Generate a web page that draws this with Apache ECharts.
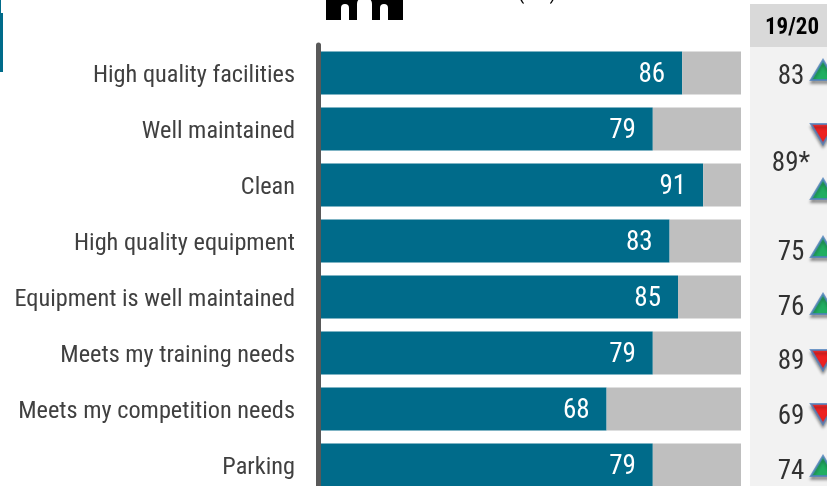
<!DOCTYPE html>
<html>
<head>
<meta charset="utf-8">
<script src="https://cdn.jsdelivr.net/npm/echarts@6/dist/echarts.min.js"></script>
<style>
html, body { margin: 0; padding: 0; background: #fff; }
#chart { width: 827px; height: 486px; }
</style>
</head>
<body>
<div id="chart"></div>
<script>
const categories = ["High quality facilities", "Well maintained", "Clean", "High quality equipment",
  "Equipment is well maintained", "Meets my training needs", "Meets my competition needs", "Parking"];
const scores = [86, 79, 91, 83, 85, 79, 68, 79];
const remainder = [14, 21, 9, 17, 15, 21, 32, 21];
// 19/20 column: 89* covers both "Well maintained" and "Clean"
const lastYear = ["83", "89*", null, "75", "76", "89", "69", "74"];
const trend = ["up", "down", "up", "up", "up", "down", "down", "up"];
// nudges (px) because the source column does not sit on the bar centres
const lastYearNudge = [4, 35, 0, 12, 11, 9, 8, 7];
const trendNudge = [-3, 5, 4, 6, 7, 7, 5, 1];

const TEAL = "#006b8a";
const FONT = "'Roboto Condensed', 'Liberation Sans', sans-serif";

const myChart = echarts.init(document.getElementById("chart"), null, { renderer: "canvas" });

function triangleData(dir, color) {
  const out = [];
  trend.forEach(function (t, i) {
    if (t !== dir) return;
    out.push({
      value: ["trend", categories[i]],
      symbolOffset: [0, trendNudge[i]],
      itemStyle: { color: color }
    });
  });
  return out;
}

const triangleStyle = {
  borderColor: "#4f81bd",
  borderWidth: 2,
  shadowColor: "rgba(0,0,0,0.4)",
  shadowBlur: 3,
  shadowOffsetY: 3
};

const option = {
  animation: false,
  grid: [
    { left: 321, width: 420, top: 45, height: 448, outerBoundsMode: "none" },
    { left: 775, width: 64, top: 45, height: 448, outerBoundsMode: "none" }
  ],
  xAxis: [
    { gridIndex: 0, type: "value", min: 0, max: 100, show: false },
    { gridIndex: 1, type: "category", data: ["value", "trend"], show: false }
  ],
  yAxis: [
    {
      gridIndex: 0,
      type: "category",
      inverse: true,
      data: categories,
      axisTick: { show: false },
      axisLine: { show: true, lineStyle: { color: "#595959", width: 5 }, onZero: false },
      offset: 3,
      axisLabel: {
        margin: 23,
        formatter: "{a|{value}}",
        rich: {
          a: { color: "#404040", fontSize: 24.3, fontFamily: FONT, padding: [6, 0, 0, 0] }
        }
      }
    },
    { gridIndex: 1, type: "category", inverse: true, data: categories, show: false }
  ],
  series: [
    {
      type: "bar",
      stack: "total",
      barWidth: 43,
      itemStyle: { color: TEAL },
      label: {
        show: true,
        position: "insideRight",
        distance: 17,
        offset: [0, 2],
        color: "#fff",
        fontSize: 27,
        fontFamily: FONT
      },
      data: scores
    },
    {
      type: "bar",
      stack: "total",
      barWidth: 43,
      itemStyle: { color: "#bfbfbf" },
      data: remainder
    },
    {
      type: "scatter",
      xAxisIndex: 1,
      yAxisIndex: 1,
      symbolSize: 0,
      z: 5,
      data: lastYear.map(function (v, i) {
        if (v === null) return null;
        return {
          value: ["value", categories[i]],
          label: {
            show: true,
            position: "inside",
            offset: [0, lastYearNudge[i]],
            formatter: v,
            color: "#000",
            fontSize: 27,
            fontFamily: FONT
          }
        };
      }).filter(Boolean)
    },
    {
      type: "scatter",
      xAxisIndex: 1,
      yAxisIndex: 1,
      symbol: "triangle",
      symbolSize: [24, 20],
      z: 5,
      itemStyle: triangleStyle,
      data: triangleData("up", "#00b050")
    },
    {
      type: "scatter",
      xAxisIndex: 1,
      yAxisIndex: 1,
      symbol: "triangle",
      symbolRotate: 180,
      symbolSize: [24, 20],
      z: 5,
      itemStyle: triangleStyle,
      data: triangleData("down", "#ff0000")
    }
  ],
  graphic: [
    { type: "rect", z: -10, shape: { x: 750, y: 4, width: 77, height: 43 }, style: { fill: "#d9d9d9" } },
    { type: "rect", z: -10, shape: { x: 750, y: 47, width: 77, height: 439 }, style: { fill: "#f2f2f2" } },
    {
      type: "text", z: 10, x: 792, y: 28,
      style: { text: "19/20", fill: "#000", font: "bold 23px " + FONT, textAlign: "center", textVerticalAlign: "middle" }
    },
    // side rule, top-left
    { type: "rect", shape: { x: 0, y: 0, width: 1, height: 13 }, style: { fill: TEAL } },
    { type: "rect", shape: { x: 0, y: 13, width: 3, height: 59 }, style: { fill: TEAL } },
    // cropped icon at the top edge
    { type: "rect", shape: { x: 326, y: 0, width: 77, height: 20 }, style: { fill: "#000" } },
    { type: "rect", shape: { x: 341, y: 4, width: 8, height: 16, r: [4, 4, 0, 0] }, style: { fill: "#fff" } },
    { type: "rect", shape: { x: 357, y: -3, width: 15, height: 23, r: [7, 7, 0, 0] }, style: { fill: "#fff" } },
    { type: "rect", shape: { x: 380, y: 4, width: 8, height: 16, r: [4, 4, 0, 0] }, style: { fill: "#fff" } },
    // cropped brackets of the heading
    {
      type: "text", x: 537, y: -7,
      style: { text: "(     )", fill: "#000", font: "22px " + FONT, textAlign: "center", textVerticalAlign: "middle" }
    }
  ]
};

myChart.setOption(option);
window.addEventListener("resize", function () { myChart.resize(); });
</script>
</body>
</html>
